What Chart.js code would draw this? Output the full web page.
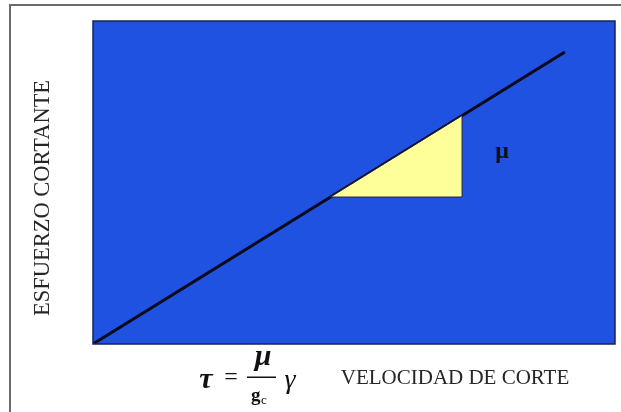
<!DOCTYPE html>
<html><head><meta charset="utf-8">
<script src="https://cdn.jsdelivr.net/npm/chart.js@4.4.0/dist/chart.umd.min.js"></script>
<style>html,body{margin:0;padding:0;background:#fff;}#wrap{width:621px;height:412px;}</style>
</head><body><div id="wrap"><canvas id="c" width="621" height="412"></canvas></div>
<script>
// Data (arbitrary linear units, slope = mu/gc)
const lineX = [0, 9.04];
const lineY = [0, 9.04];
const triX = [4.55, 7.07, 7.07, 4.55];
const triY = [4.55, 4.55, 7.07, 4.55];
const xTitle = 'VELOCIDAD DE CORTE';
const yTitle = 'ESFUERZO CORTANTE';
const slopeLabel = 'μ';

const toPts = (xs, ys) => xs.map((x, i) => ({x: x, y: ys[i]}));

const deco = {
  id: 'deco',
  beforeDraw(chart) {
    const {ctx, chartArea: a} = chart;
    ctx.save();
    ctx.fillStyle = '#1f52e0';
    ctx.fillRect(a.left, a.top, a.right - a.left, a.bottom - a.top);
    ctx.restore();
  },
  afterDraw(chart) {
    const {ctx, chartArea: a} = chart;
    ctx.save();
    // plot border
    ctx.strokeStyle = '#16245c';
    ctx.lineWidth = 1.5;
    ctx.strokeRect(a.left, a.top, a.right - a.left, a.bottom - a.top);
    // outer frame
    ctx.strokeStyle = '#6a6a6a';
    ctx.lineWidth = 2;
    ctx.beginPath();
    ctx.moveTo(621, 5); ctx.lineTo(10, 5); ctx.lineTo(10, 412);
    ctx.stroke();
    // slope label
    const xs = chart.scales.x, ys = chart.scales.y;
    ctx.fillStyle = '#111';
    ctx.font = 'bold 24px "Liberation Serif"';
    ctx.textAlign = 'center'; ctx.textBaseline = 'middle';
    ctx.fillText(slopeLabel, xs.getPixelForValue(7.07) + 40, (ys.getPixelForValue(4.55) + ys.getPixelForValue(7.07)) / 2 - 5);
    // axis titles
    ctx.fillStyle = '#262626';
    ctx.font = '21px "Liberation Serif"';
    ctx.fillText(xTitle, 455, 378);
    ctx.save();
    ctx.translate(43, 198);
    ctx.rotate(-Math.PI / 2);
    ctx.font = '22.5px "Liberation Serif"';
    ctx.fillText(yTitle, 0, 0);
    ctx.restore();
    // formula
    ctx.fillStyle = '#111';
    ctx.font = 'italic bold 30px "Liberation Serif"';
    ctx.fillText('τ', 206, 380);
    ctx.font = '24px "Liberation Serif"';
    ctx.fillText('=', 231, 378);
    ctx.font = 'italic bold 30px "Liberation Serif"';
    ctx.fillText('μ', 263, 357);
    ctx.fillRect(247, 376.5, 29, 1.5);
    ctx.font = 'bold 19px "Liberation Serif"';
    ctx.textAlign = 'left';
    ctx.fillText('g', 251, 396);
    ctx.font = '13px "Liberation Serif"';
    ctx.fillText('c', 261, 401);
    ctx.font = 'italic 28px "Liberation Serif"';
    ctx.textAlign = 'center';
    ctx.fillText('γ', 290, 381);
    ctx.restore();
  }
};

new Chart(document.getElementById('c'), {
  type: 'scatter',
  data: {
    datasets: [
      {
        data: toPts(triX, triY),
        showLine: true,
        fill: 'shape',
        backgroundColor: '#ffff99',
        borderColor: '#20204a',
        borderWidth: 1,
        pointRadius: 0,
        tension: 0
      },
      {
        data: toPts(lineX, lineY),
        showLine: true,
        fill: false,
        borderColor: '#0a0a1a',
        borderWidth: 3,
        pointRadius: 0,
        tension: 0
      }
    ]
  },
  plugins: [deco],
  options: {
    responsive: false,
    animation: false,
    layout: {padding: {left: 93, top: 21, right: 6, bottom: 68}},
    plugins: {legend: {display: false}, tooltip: {enabled: false}, title: {display: false}},
    scales: {
      x: {type: 'linear', min: 0, max: 10, display: false},
      y: {type: 'linear', min: 0, max: 10, display: false}
    }
  }
});
</script></body></html>
